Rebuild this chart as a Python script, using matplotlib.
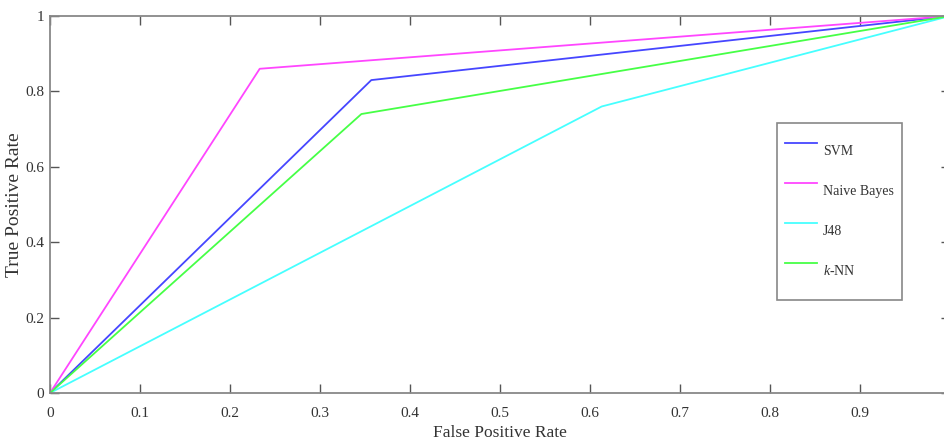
import matplotlib
matplotlib.use("Agg")
import matplotlib.pyplot as plt

# ROC points
svm_fpr = [0, 0.357, 1]
svm_tpr = [0, 0.83, 1]
nb_fpr = [0, 0.233, 1]
nb_tpr = [0, 0.86, 1]
j48_fpr = [0, 0.613, 1]
j48_tpr = [0, 0.76, 1]
knn_fpr = [0, 0.346, 1]
knn_tpr = [0, 0.74, 1]

xticks = [0, 0.1, 0.2, 0.3, 0.4, 0.5, 0.6, 0.7, 0.8, 0.9, 1]
# the "1" label is cropped away in the original
xtick_labels = ["0", "0.1", "0.2", "0.3", "0.4", "0.5", "0.6", "0.7", "0.8", "0.9", ""]
yticks = [0, 0.2, 0.4, 0.6, 0.8, 1]
ytick_labels = ["0", "0.2", "0.4", "0.6", "0.8", "1"]

plt.rcParams["font.family"] = ["Liberation Serif", "DejaVu Serif"]
plt.rcParams["mathtext.fontset"] = "custom"
plt.rcParams["mathtext.it"] = "Liberation Serif:italic"
plt.rcParams["mathtext.rm"] = "Liberation Serif"

W, H = 944, 446
fig = plt.figure(figsize=(W / 100, H / 100), dpi=100)
# axes runs slightly past the right edge, like the cropped original
ax = fig.add_axes([50 / W, (H - 393) / H, 900 / W, 377 / H])

lw = 1.3
ax.plot(svm_fpr, svm_tpr, color="#4646ff", linewidth=lw, label="SVM")
ax.plot(nb_fpr, nb_tpr, color="#ff46ff", linewidth=lw, label="Naive Bayes")
ax.plot(j48_fpr, j48_tpr, color="#46ffff", linewidth=lw, label="J48")
ax.plot(knn_fpr, knn_tpr, color="#46ff46", linewidth=lw, label="$k$-NN")

ax.set_xlim(0, 1)
ax.set_ylim(0, 1)
ax.set_xticks(xticks)
ax.set_xticklabels(xtick_labels)
ax.set_yticks(yticks)
ax.set_yticklabels(ytick_labels)

for s in ax.spines.values():
    s.set_color("#888888")
    s.set_linewidth(1.3)
ax.tick_params(direction="in", length=6.5, width=1, color="#555555",
               labelsize=11, labelcolor="#333333", top=True, right=True)
ax.tick_params(axis="x", pad=10)
ax.tick_params(axis="y", pad=4)

ax.set_xlabel("False Positive Rate", fontsize=12.5, color="#333333", labelpad=4)
ax.set_ylabel("True Positive Rate", fontsize=14, color="#333333", labelpad=1.5)

leg = ax.legend(loc="upper left", bbox_to_anchor=(777 / W, 1 - 123 / H),
                bbox_transform=fig.transFigure, borderaxespad=0,
                fontsize=10, handlelength=2.3, handleheight=4.05,
                labelspacing=0, handletextpad=0.4, borderpad=0.6,
                fancybox=False, framealpha=1, edgecolor="#888888")
leg.get_frame().set_linewidth(1.2)
for t in leg.get_texts():
    t.set_color("#333333")

fig.savefig("out.png", dpi=100)
